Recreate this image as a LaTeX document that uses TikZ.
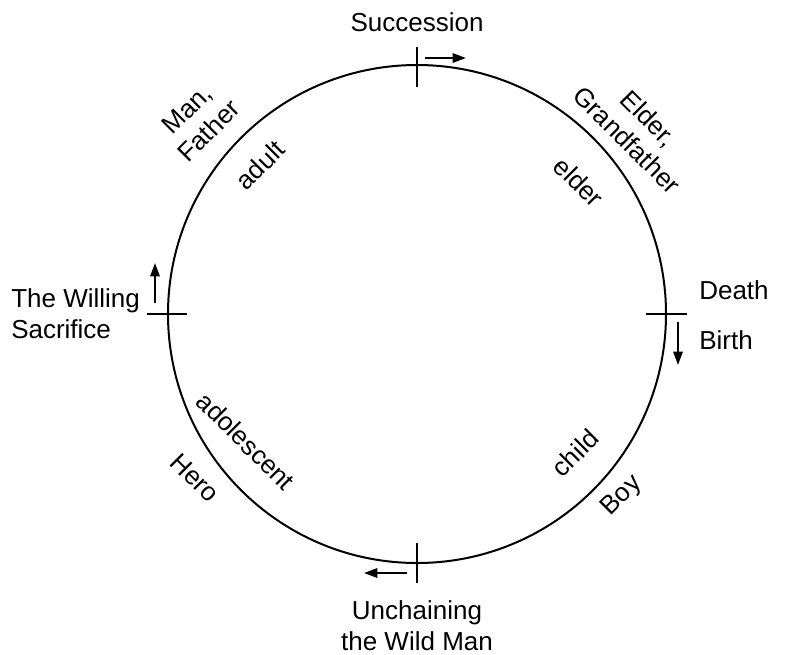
\documentclass[tikz,border=0pt]{standalone}
\usepackage{fontspec}
\setmainfont{Liberation Sans}
\usetikzlibrary{arrows.meta}
\begin{document}
\begin{tikzpicture}[x=0.75pt,y=-0.75pt,
  lab/.style={font=\fontsize{19.5pt}{23pt}\selectfont, inner sep=0pt, align=center},
  ln/.style={line width=1.5pt, black},
  arr/.style={line width=1.5pt, -{Triangle[length=10pt,width=7pt]}}]
\useasboundingbox (0,0) rectangle (785,654);
% circle
\coordinate (C) at (417,314);
\draw[ln] (C) circle[radius=249];
% ticks
\coordinate (t1) at (417,47); \coordinate (t2) at (417,87);
\coordinate (r1) at (646,314); \coordinate (r2) at (687,314);
\coordinate (l1) at (147,314); \coordinate (l2) at (187,314);
\coordinate (b1) at (417,543); \coordinate (b2) at (417,583);
\draw[ln] (t1) -- (t2);
\draw[ln] (r1) -- (r2);
\draw[ln] (l1) -- (l2);
\draw[ln] (b1) -- (b2);
% arrows
\coordinate (ta) at (425,58); \coordinate (tb) at (466,58);
\coordinate (ra) at (678,322); \coordinate (rb) at (678,365);
\coordinate (la) at (155,303); \coordinate (lb) at (155,263);
\coordinate (ba) at (407,573); \coordinate (bb) at (364,573);
\draw[arr] (ta) -- (tb);
\draw[arr] (ra) -- (rb);
\draw[arr] (la) -- (lb);
\draw[arr] (ba) -- (bb);
% labels
\node[lab] (succ) at (417,22) {Succession};
\node[lab, anchor=west] (death) at (699,290) {Death};
\node[lab, anchor=west] (birth) at (699,340) {Birth};
\node[lab, anchor=west, align=left] (will) at (11,314) {The Willing\\Sacrifice};
\node[lab] (unch) at (417,626) {Unchaining\\the Wild Man};
\node[lab, rotate=45] (man) at (198,120) {Man,\\Father};
\node[lab, rotate=45] (adult) at (260,165) {adult};
\node[lab, rotate=-45] (eld) at (638,129) {Elder,\\Grandfather};
\node[lab, rotate=-45] (elder) at (579,182) {elder};
\node[lab, rotate=-45] (adol) at (246,441) {adolescent};
\node[lab, rotate=-45] (hero) at (195,478) {Hero};
\node[lab, rotate=45] (child) at (575,453) {child};
\node[lab, rotate=45] (boy) at (622,496) {Boy};
\end{tikzpicture}
\end{document}
